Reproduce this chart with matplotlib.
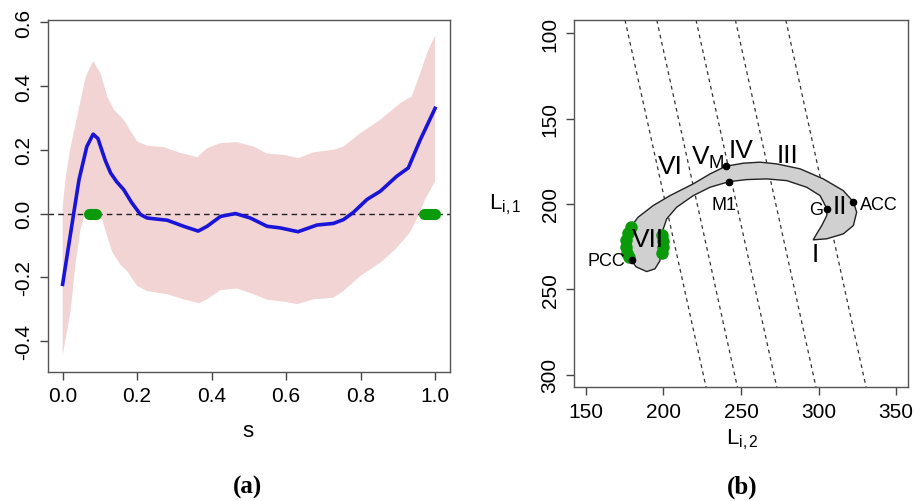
import matplotlib
matplotlib.use("Agg")
import matplotlib.pyplot as plt
import numpy as np

plt.rcParams.update({
    'font.family': ['Liberation Sans', 'DejaVu Sans'],
    'font.size': 14,
    'mathtext.fontset': 'custom',
    'mathtext.rm': 'Liberation Sans',
    'mathtext.it': 'Liberation Sans',
})

# ---- panel (a): estimated coefficient function with band ----
s_est = [0.0, 0.017, 0.044, 0.065, 0.082, 0.095, 0.102, 0.115, 0.129, 0.145, 0.164, 0.185,
         0.209, 0.227, 0.281, 0.325, 0.364, 0.388, 0.424, 0.464, 0.504, 0.549, 0.584,
         0.632, 0.683, 0.727, 0.754, 0.781, 0.817, 0.853, 0.897, 0.928, 0.96, 1.0]
beta_est = [-0.222, -0.095, 0.106, 0.21, 0.249, 0.235, 0.21, 0.165, 0.127, 0.1, 0.075, 0.035,
            -0.003, -0.014, -0.021, -0.04, -0.055, -0.04, -0.009, 0.0, -0.014, -0.04, -0.045,
            -0.057, -0.036, -0.031, -0.019, 0.004, 0.044, 0.07, 0.117, 0.143, 0.231, 0.330]

s_up = [0.0, 0.008, 0.02, 0.039, 0.062, 0.082, 0.102, 0.12, 0.138, 0.164, 0.2, 0.227, 0.272,
        0.316, 0.362, 0.388, 0.424, 0.468, 0.513, 0.549, 0.593, 0.633, 0.674, 0.727, 0.754,
        0.799, 0.853, 0.906, 0.937, 0.96, 0.978, 1.0]
band_up = [0.02, 0.11, 0.2, 0.304, 0.429, 0.478, 0.44, 0.367, 0.325, 0.294, 0.226, 0.213, 0.208,
           0.19, 0.177, 0.205, 0.221, 0.224, 0.21, 0.188, 0.184, 0.174, 0.192, 0.2, 0.21,
           0.252, 0.294, 0.346, 0.367, 0.44, 0.502, 0.559]

s_lo = [0.0, 0.021, 0.035, 0.048, 0.06, 0.08, 0.106, 0.12, 0.133, 0.155, 0.173, 0.2, 0.227,
        0.281, 0.325, 0.366, 0.388, 0.424, 0.468, 0.513, 0.549, 0.593, 0.63, 0.674, 0.727,
        0.754, 0.799, 0.853, 0.893, 0.932, 0.955, 0.973, 1.0]
band_lo = [-0.446, -0.31, -0.154, -0.05, 0.0, 0.005, -0.019, -0.071, -0.12, -0.16, -0.18, -0.227,
           -0.243, -0.253, -0.269, -0.281, -0.269, -0.24, -0.235, -0.253, -0.27, -0.276, -0.284,
           -0.269, -0.264, -0.243, -0.196, -0.154, -0.1125, -0.06, -0.008, 0.044, 0.101]

sig_regions = [(0.072, 0.091), (0.969, 1.0)]

# ---- panel (b): 2-d embedding with regions ----
shape_x = [189.2, 182.3, 179.5, 177.1, 177.7, 180.3, 183.7, 193.4, 204.2, 219.2, 230.0, 240.1,
           251.5, 262.3, 273.0, 288.1, 303.1, 316.0, 322.5, 324.6, 322.5, 316.0, 305.3, 296.6,
           298.8, 302.1, 305.3, 305.5, 301.0, 292.4, 279.5, 266.6, 253.7, 242.3, 230.0, 219.2,
           208.5, 202.1, 198.8, 198.4, 197.7, 194.5]
shape_y = [239.6, 236.8, 233.1, 226.3, 217.5, 211.7, 207.7, 200.9, 195.1, 188.2, 182.4, 177.9,
           176.1, 175.5, 176.5, 179.4, 185.3, 192.2, 198.8, 204.8, 212.6, 217.5, 220.4, 221.0,
           217.5, 212.6, 206.8, 202.9, 195.1, 190.2, 186.3, 185.3, 185.7, 186.9, 190.2, 195.1,
           201.9, 208.7, 217.5, 226.3, 233.3, 238.0]

line_top_x = [175.2, 195.7, 221.0, 246.4, 278.9]
line_bot_x = [227.5, 247.7, 273.1, 298.4, 330.7]

green_x = [179.0, 177.1, 176.1, 175.8, 176.5, 177.7, 199.0, 199.7, 199.7, 199.0]
green_y = [213.4, 216.9, 221.0, 225.1, 228.6, 231.0, 218.1, 221.6, 225.1, 228.6]

pt_names = ['V_M', 'M1', 'G', 'ACC', 'PCC']
pt_x = [240.1, 242.2, 305.5, 322.5, 179.5]
pt_y = [177.9, 186.9, 202.9, 198.9, 233.1]

region_labels = ['I', 'II', 'III', 'IV', r'$\mathregular{V_M}$', 'VI', 'VII']
region_x = [297.7, 313.9, 280.0, 250.2, 228.4, 204.2, 190.2]
region_y = [229.2, 201.4, 171.1, 168.2, 172.5, 177.5, 220.4]

fig = plt.figure(figsize=(9.15, 5.02), dpi=100)
W, H = 915.0, 502.0


def px_axes(l, t, r, b):
    return fig.add_axes([l / W, 1 - b / H, (r - l) / W, (b - t) / H])


def style(ax):
    for sp in ax.spines.values():
        sp.set_color('#555555')
        sp.set_linewidth(1.0)
    ax.tick_params(direction='out', length=5.5, width=1.0, color='#444444',
                   labelsize=15, pad=5)
    for lab in ax.get_yticklabels():
        lab.set_rotation(90)
        lab.set_va('center')


# panel (a)
ax1 = px_axes(47.7, 21, 450, 372.7)
band_x = list(s_up) + list(s_lo[::-1])
band_y = list(band_up) + list(band_lo[::-1])
ax1.fill(band_x, band_y, color='#f2d4d4', lw=0)
ax1.axhline(0, color='#222222', ls=(0, (4, 3)), lw=1.0)
ax1.plot(s_est, beta_est, color='#1a14d8', lw=2.6, solid_joinstyle='round')
for a, b in sig_regions:
    ax1.plot([a, b], [0, 0], color='#0a9a0a', lw=8, solid_capstyle='round')
ax1.set_xlim(-0.04, 1.04)
ax1.set_ylim(-0.496, 0.607)
ax1.set_xticks([0.0, 0.2, 0.4, 0.6, 0.8, 1.0])
ax1.set_xticklabels(['0.0', '0.2', '0.4', '0.6', '0.8', '1.0'])
ax1.set_yticks([-0.4, -0.2, 0.0, 0.2, 0.4, 0.6])
ax1.set_yticklabels(['-0.4', '-0.2', '0.0', '0.2', '0.4', '0.6'])
style(ax1)

# panel (b)
ax2 = px_axes(574.3, 21, 908.3, 388.3)
ylo, yhi = 307.4, 92.2
for xt, xb in zip(line_top_x, line_bot_x):
    ax2.plot([xt, xb], [yhi, ylo], color='#333333', ls=(0, (3, 3)), lw=0.9)
ax2.fill(shape_x, shape_y, facecolor='#d0d0d0', edgecolor='#222222', lw=1.0,
         joinstyle='round', zorder=3)
ax2.plot(green_x, green_y, 'o', color='#0a9a0a', ms=9, mec='none', zorder=4)
ax2.plot(pt_x, pt_y, 'o', color='black', ms=4.5, zorder=5)
for lab, x, y in zip(region_labels, region_x, region_y):
    ax2.text(x, y, lab, fontsize=19, ha='center', va='center', zorder=6)
ax2.text(303.1, 203.3, 'G', fontsize=13, ha='right', va='center', zorder=6)
ax2.text(326.8, 200.4, 'ACC', fontsize=13, ha='left', va='center', zorder=6)
ax2.text(175.2, 233.1, 'PCC', fontsize=13, ha='right', va='center', zorder=6)
ax2.text(239.2, 200.4, 'M1', fontsize=13, ha='center', va='center', zorder=6)
ax2.set_xlim(142.5, 357.9)
ax2.set_ylim(ylo, yhi)
ax2.set_xticks([150, 200, 250, 300, 350])
ax2.set_yticks([100, 150, 200, 250, 300])
style(ax2)

# axis labels and captions
fig.text(248 / W, 1 - 431.7 / H, 's', fontsize=16, ha='center', va='center')
fig.text(505 / W, 1 - 205 / H, r'$\mathregular{L_{i,1}}$', fontsize=16, ha='center', va='center')
fig.text(742 / W, 1 - 440 / H, r'$\mathregular{L_{i,2}}$', fontsize=16, ha='center', va='center')
fig.text(247 / W, 1 - 487 / H, '(a)', fontsize=18, fontweight='bold',
         family='Liberation Serif', ha='center', va='center')
fig.text(742 / W, 1 - 487 / H, '(b)', fontsize=18, fontweight='bold',
         family='Liberation Serif', ha='center', va='center')

fig.savefig('out.png', dpi=100)
